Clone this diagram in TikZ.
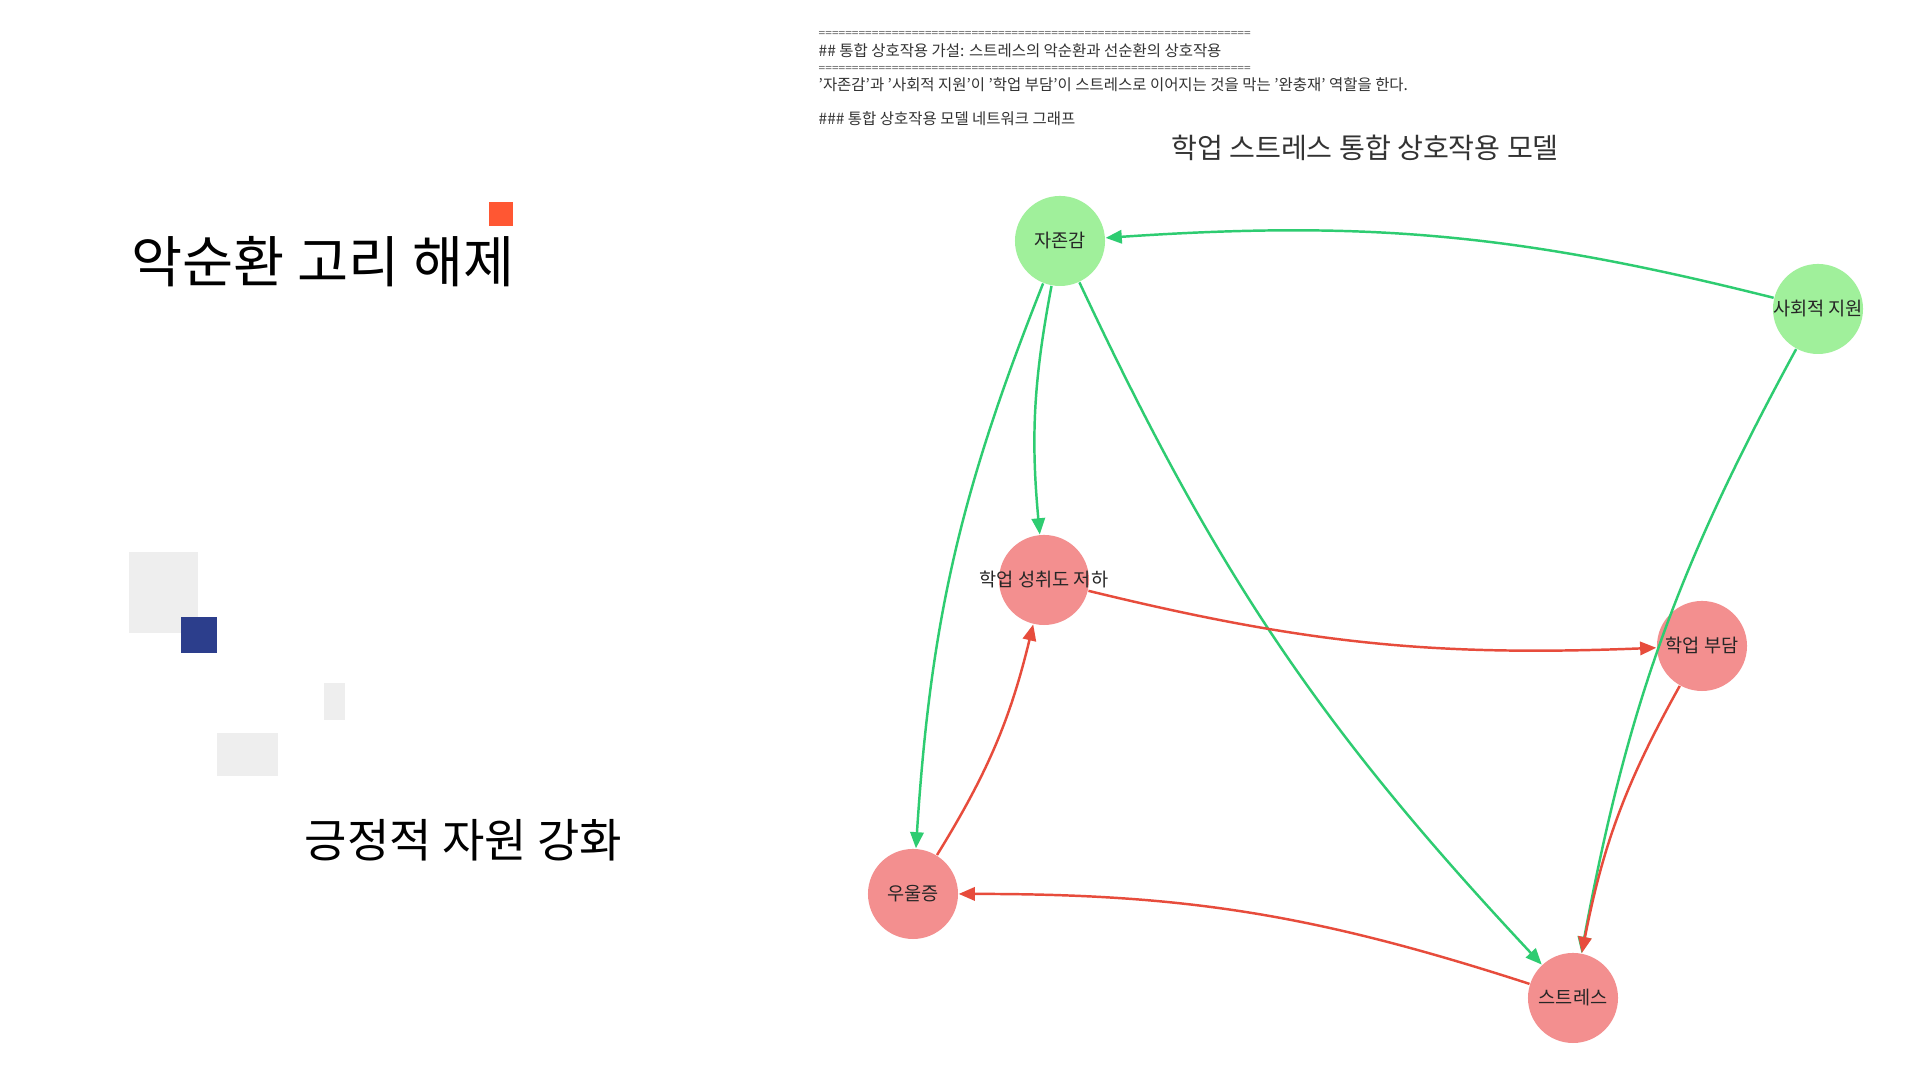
\documentclass[tikz,border=0pt]{standalone}
\usepackage{fontspec}
\setmainfont{Noto Sans CJK KR}
\newfontfamily\monofont{DejaVu Sans Mono}
\usetikzlibrary{arrows.meta}
\definecolor{nodegreen}{RGB}{160,240,155}
\definecolor{nodered}{RGB}{243,143,143}
\definecolor{edgegreen}{RGB}{46,204,113}
\definecolor{edgered}{RGB}{231,76,60}
\definecolor{accentorange}{RGB}{255,87,51}
\definecolor{accentnavy}{RGB}{44,62,140}
\definecolor{boxgrey}{RGB}{238,238,238}
\begin{document}
\begin{tikzpicture}[x=0.01cm,y=0.01cm]
		\tikzstyle{every node}+=[inner sep=0pt]
		\tikzstyle{posnode}=[circle,minimum size=0.9cm,fill=nodegreen,font=\fontsize{5.3pt}{6pt}\selectfont,text=black!85]
		\tikzstyle{negnode}=[circle,minimum size=0.9cm,fill=nodered,font=\fontsize{5.3pt}{6pt}\selectfont,text=black!85]
		\tikzstyle{posedge}=[draw=edgegreen,line width=0.7pt,-{Triangle[length=4.6pt,width=3.8pt]}]
		\tikzstyle{negedge}=[draw=edgered,line width=0.7pt,-{Triangle[length=4.6pt,width=3.8pt]}]
		\tikzstyle{hdrline}=[anchor=west,font=\fontsize{4.4pt}{5pt}\selectfont,text=black!80]
		\tikzstyle{ruleline}=[anchor=west,font=\monofont\fontsize{3.14pt}{4pt}\selectfont,text=black!55]
		\useasboundingbox (0,0) rectangle (1920,1080);
		\fill [white] (0,0) rectangle (1920,1080);
		\fill [accentorange] (489,854) rectangle (513,878);
		\fill [boxgrey] (129,447) rectangle (198,528);
		\fill [accentnavy] (181,427) rectangle (217,463);
		\fill [boxgrey] (324,360) rectangle (345,397);
		\fill [boxgrey] (217,304) rectangle (278,347);
		\node [anchor=west,font=\fontsize{15.8pt}{18pt}\selectfont] (cuttitle) at (131,818) {악순환 고리 해제};
		\node [anchor=west,font=\fontsize{13.1pt}{16pt}\selectfont] (boosttitle) at (304,240) {긍정적 자원 강화};
		\node [ruleline] (rule1) at (818,1046) {=================================================================};
		\node [hdrline] (hdr1) at (818,1029) {\#\# 통합 상호작용 가설: 스트레스의 악순환과 선순환의 상호작용};
		\node [ruleline] (rule2) at (818,1011) {=================================================================};
		\node [hdrline] (hdr2) at (818,995) {'자존감'과 '사회적 지원'이 '학업 부담'이 스트레스로 이어지는 것을 막는 '완충재' 역할을 한다.};
		\node [hdrline] (hdr3) at (818,961) {\#\#\# 통합 상호작용 모델 네트워크 그래프};
		\node [font=\fontsize{8pt}{10pt}\selectfont,text=black!80] (graphtitle) at (1365,932) {학업 스트레스 통합 상호작용 모델};
		\node [posnode] (jaz) at (1060,839) {자존감};
		\node [posnode] (social) at (1818,771) {\makebox[0pt]{사회적 지원}};
		\node [negnode] (achieve) at (1044,500) {\makebox[0pt]{학업 성취도 저하}};
		\node [negnode] (burden) at (1702,434) {학업 부담};
		\node [negnode] (depress) at (913,186) {우울증};
		\node [negnode] (stress) at (1573,82) {스트레스};
		\draw [posedge] (social) to[bend right=9] (jaz);
		\draw [posedge] (jaz) to[bend right=8] (achieve);
		\draw [posedge] (jaz) to[bend right=9] (depress);
		\draw [posedge] (jaz) to[bend right=9] (stress);
		\draw [posedge] (social) to[bend right=9] (stress);
		\draw [negedge] (depress) to[bend right=9] (achieve);
		\draw [negedge] (achieve) to[bend right=8] (burden);
		\draw [negedge] (burden) to[bend right=9] (stress);
		\draw [negedge] (stress) to[bend right=9] (depress);
\end{tikzpicture}
\end{document}
